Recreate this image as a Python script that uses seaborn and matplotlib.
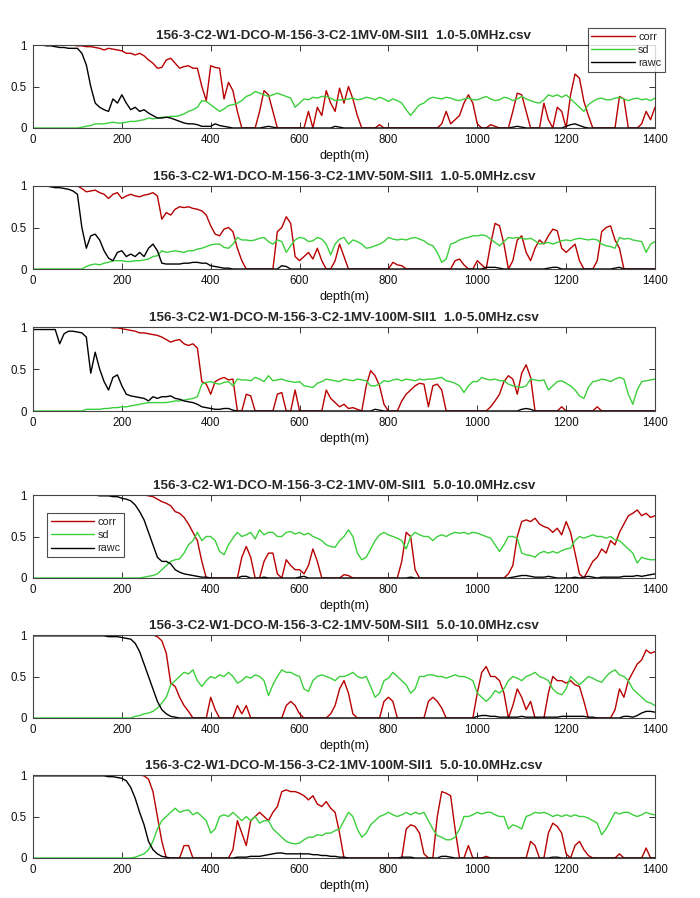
import numpy as np
import pandas as pd
import matplotlib
matplotlib.use("Agg")
import matplotlib.pyplot as plt
import seaborn as sns

# depth grid (m), one sample every 10 m
depth = list(range(0, 1401, 10))

titles = [
    "156-3-C2-W1-DCO-M-156-3-C2-1MV-0M-SII1  1.0-5.0MHz.csv",
    "156-3-C2-W1-DCO-M-156-3-C2-1MV-50M-SII1  1.0-5.0MHz.csv",
    "156-3-C2-W1-DCO-M-156-3-C2-1MV-100M-SII1  1.0-5.0MHz.csv",
    "156-3-C2-W1-DCO-M-156-3-C2-1MV-0M-SII1  5.0-10.0MHz.csv",
    "156-3-C2-W1-DCO-M-156-3-C2-1MV-50M-SII1  5.0-10.0MHz.csv",
    "156-3-C2-W1-DCO-M-156-3-C2-1MV-100M-SII1  5.0-10.0MHz.csv",
]

# ---- 0M 1.0-5.0MHz
p1_corr = [
    1, 1, 1, 1, 1, 1, 1, 1, 1, 1,
    .99, .99, .98, .98, .97, .96, .94, .96, .95, .94,
    .93, .9, .9, .88, .9, .87, .82, .78, .72, .73,
    .82, .84, .78, .72, .74, .75, .72, .72, .5, .33,
    .75, .73, .72, .35, .55, .45, .2, 0, 0, 0,
    0, .2, .45, .4, .2, 0, 0, 0, 0, 0,
    0, 0, .2, 0, .25, .15, .45, .3, .2, .48,
    .3, .5, .35, .15, 0, 0, 0, 0, .04, 0,
    0, 0, 0, 0, 0, 0, 0, 0, 0, 0,
    0, 0, .05, .2, .05, .1, .15, .3, .4, .3,
    .05, 0, 0, .04, .02, 0, 0, 0, .2, .42,
    .4, .2, 0, 0, 0, .3, .1, 0, .25, .2,
    0, .4, .65, .6, .32, .15, 0, 0, 0, 0,
    0, 0, .38, .35, 0, 0, 0, .05, .2, .1,
    .25]
p1_sd = [
    0, 0, 0, 0, 0, 0, 0, 0, 0, 0,
    0, .01, .02, .03, .05, .05, .05, .06, .07, .06,
    .06, .07, .08, .08, .09, .1, .12, .11, .12, .13,
    .13, .14, .14, .15, .17, .2, .22, .25, .33, .32,
    .28, .24, .2, .23, .27, .28, .3, .33, .38, .4,
    .44, .42, .4, .38, .4, .42, .4, .38, .36, .25,
    .3, .35, .34, .37, .36, .38, .38, .36, .33, .34,
    .34, .35, .36, .34, .35, .37, .36, .34, .37, .35,
    .32, .35, .33, .3, .22, .15, .22, .28, .3, .35,
    .37, .36, .35, .37, .36, .34, .33, .35, .36, .34,
    .34, .36, .38, .35, .33, .34, .37, .36, .33, .35,
    .38, .35, .33, .31, .3, .34, .4, .38, .4, .37,
    .4, .35, .3, .25, .2, .28, .32, .35, .36, .34,
    .34, .36, .37, .35, .33, .35, .36, .34, .35, .33,
    .36]
p1_rawc = [
    1, 1, 1, .99, .99, .98, .97, .97, .96, .96,
    .96, .9, .76, .5, .3, .25, .22, .2, .35, .3,
    .4, .3, .22, .25, .2, .22, .18, .15, .12, .12,
    .13, .12, .1, .08, .06, .05, .05, .04, .02, .02,
    .02, .05, .03, .02, .01, 0, 0, 0, 0, 0,
    0, 0, .01, .02, .01, 0, 0, 0, 0, 0,
    0, 0, 0, 0, 0, 0, 0, 0, .02, .01,
    0, 0, 0, 0, 0, 0, 0, 0, 0, 0,
    0, 0, 0, 0, 0, 0, 0, 0, 0, 0,
    0, 0, 0, 0, 0, 0, 0, 0, 0, 0,
    0, 0, 0, 0, 0, 0, 0, 0, .01, .02,
    .01, 0, 0, 0, 0, 0, 0, 0, 0, 0,
    .02, .04, .05, .03, .01, 0, 0, 0, 0, 0,
    0, 0, 0, 0, 0, 0, 0, 0, 0, 0,
    0]

# ---- 50M 1.0-5.0MHz
p2_corr = [
    1, 1, 1, 1, 1, 1, 1, 1, 1, 1,
    1, .97, .93, .94, .95, .92, .9, .85, .9, .92,
    .85, .88, .9, .88, .87, .89, .9, .92, .88, .6,
    .68, .65, .72, .75, .74, .75, .73, .72, .7, .65,
    .52, .42, .4, .48, .5, .45, .25, .1, 0, 0,
    0, 0, 0, 0, 0, .45, .5, .63, .55, .15,
    .1, .15, .2, .12, .25, .1, 0, 0, .1, .3,
    .15, 0, 0, 0, 0, 0, 0, 0, 0, 0,
    0, .08, .05, .04, 0, 0, 0, 0, 0, 0,
    0, 0, 0, 0, 0, .1, .12, .05, 0, 0,
    .1, .05, 0, .3, .55, .52, .3, 0, .1, .35,
    .4, .2, .1, .25, .35, .3, .4, .48, .46, .25,
    .2, .25, .3, .1, 0, 0, 0, .1, .45, .5,
    .52, .35, .25, 0, 0, 0, 0, 0, 0, 0,
    0]
p2_sd = [
    0, 0, 0, 0, 0, 0, 0, 0, 0, 0,
    0, 0, .03, .05, .06, .05, .07, .08, .1, .1,
    .1, .09, .09, .1, .1, .11, .12, .15, .16, .22,
    .2, .21, .22, .21, .2, .22, .22, .24, .25, .27,
    .29, .3, .3, .26, .25, .3, .38, .35, .35, .34,
    .35, .37, .38, .33, .3, .35, .33, .2, .28, .35,
    .38, .37, .33, .34, .38, .36, .3, .17, .3, .36,
    .38, .3, .35, .33, .3, .25, .26, .28, .3, .33,
    .38, .36, .35, .36, .35, .37, .38, .36, .34, .3,
    .28, .2, .08, .12, .3, .32, .35, .37, .38, .4,
    .4, .41, .4, .36, .32, .28, .33, .38, .37, .38,
    .37, .36, .37, .34, .3, .31, .32, .3, .32, .34,
    .35, .34, .36, .37, .36, .35, .36, .35, .3, .28,
    .27, .25, .38, .36, .37, .35, .34, .33, .2, .3,
    .33]
p2_rawc = [
    1, 1, 1, 1, .99, .98, .98, .97, .96, .94,
    .9, .5, .25, .4, .42, .35, .22, .13, .1, .2,
    .22, .15, .18, .15, .2, .15, .25, .3, .22, .07,
    .06, .06, .06, .06, .07, .07, .08, .08, .07, .07,
    .04, .03, .02, .01, .01, 0, 0, 0, 0, 0,
    0, 0, 0, 0, 0, 0, .04, .03, 0, 0,
    0, 0, 0, 0, 0, 0, 0, 0, 0, 0,
    0, 0, 0, 0, 0, 0, 0, 0, 0, 0,
    0, 0, 0, 0, 0, 0, 0, 0, 0, 0,
    0, 0, 0, 0, 0, 0, 0, 0, 0, 0,
    0, 0, .02, .02, .02, .01, 0, 0, 0, 0,
    0, 0, 0, 0, 0, 0, .01, .02, .02, 0,
    0, 0, 0, 0, 0, 0, 0, 0, 0, 0,
    0, .01, .02, 0, 0, 0, 0, 0, 0, 0,
    0]

# ---- 100M 1.0-5.0MHz
p3_corr = [
    1, 1, 1, 1, 1, 1, 1, 1, 1, 1,
    1, 1, 1, 1, 1, 1, 1, 1, .99, .99,
    .98, .97, .96, .95, .93, .93, .92, .91, .9, .88,
    .85, .82, .84, .85, .8, .78, .8, .75, .35, .32,
    .2, .35, .38, .4, .37, .38, 0, 0, .2, .18,
    0, 0, 0, 0, 0, .2, .22, 0, 0, .25,
    0, 0, 0, 0, 0, 0, .25, .15, .1, .05,
    .08, .03, .04, .02, 0, .3, .48, .42, .3, .08,
    0, 0, 0, .12, .2, .25, .3, .33, .32, .05,
    .3, .32, .25, 0, 0, 0, 0, 0, 0, 0,
    0, 0, 0, .05, .12, .2, .35, .42, .38, .2,
    .45, .55, .4, 0, 0, 0, 0, 0, 0, .05,
    0, 0, 0, 0, 0, 0, 0, .05, 0, 0,
    0, 0, 0, 0, 0, 0, 0, 0, 0, 0,
    0]
p3_sd = [
    0, 0, 0, 0, 0, 0, 0, 0, 0, 0,
    0, 0, .02, .02, .02, .02, .03, .03, .04, .04,
    .05, .05, .06, .07, .08, .09, .1, .1, .1, .1,
    .1, .11, .12, .12, .13, .14, .15, .17, .32, .34,
    .35, .33, .32, .34, .35, .3, .38, .37, .37, .36,
    .4, .38, .35, .42, .36, .37, .38, .36, .35, .34,
    .35, .3, .29, .28, .33, .35, .38, .37, .36, .35,
    .38, .37, .36, .38, .37, .36, .3, .3, .32, .36,
    .35, .37, .38, .36, .38, .37, .36, .38, .37, .38,
    .38, .39, .4, .36, .35, .33, .3, .22, .3, .35,
    .35, .4, .38, .37, .38, .36, .36, .32, .3, .29,
    .28, .3, .38, .37, .36, .37, .25, .3, .35, .36,
    .33, .3, .25, .18, .15, .28, .35, .36, .38, .37,
    .35, .38, .4, .38, .2, .08, .25, .35, .36, .37,
    .38]
p3_rawc = [
    .97, .97, .97, .97, .97, .97, .8, .92, .95, .95,
    .94, .93, .88, .45, .7, .5, .35, .25, .4, .43,
    .3, .2, .18, .17, .16, .15, .12, .17, .15, .17,
    .17, .18, .15, .14, .12, .11, .1, .08, .05, .04,
    .03, .02, .02, .03, .03, .01, 0, 0, 0, 0,
    0, 0, 0, 0, 0, 0, 0, 0, 0, 0,
    0, 0, 0, 0, 0, 0, 0, 0, 0, 0,
    0, 0, 0, 0, 0, 0, 0, .02, .01, 0,
    0, 0, 0, 0, 0, 0, 0, 0, 0, 0,
    0, 0, 0, 0, 0, 0, 0, 0, 0, 0,
    0, 0, 0, 0, 0, 0, 0, 0, 0, 0,
    .02, .03, .02, 0, 0, 0, 0, 0, 0, 0,
    0, 0, 0, 0, 0, 0, 0, 0, 0, 0,
    0, 0, 0, 0, 0, 0, 0, 0, 0, 0,
    0]

# ---- 0M 5.0-10.0MHz
p4_corr = [
    1, 1, 1, 1, 1, 1, 1, 1, 1, 1,
    1, 1, 1, 1, 1, 1, 1, 1, 1, 1,
    1, 1, 1, 1, 1, 1, .99, .98, .95, .92,
    .9, .87, .8, .78, .73, .65, .55, .45, .2, 0,
    0, 0, 0, 0, 0, 0, 0, .25, .38, .25,
    0, 0, .2, .3, .3, .05, 0, .22, .15, .1,
    .1, .05, .15, .35, .2, 0, 0, 0, 0, 0,
    .04, .03, 0, 0, 0, 0, 0, 0, 0, 0,
    0, 0, 0, .2, .55, .5, .1, 0, 0, 0,
    0, 0, 0, 0, 0, 0, 0, 0, 0, 0,
    0, 0, 0, 0, 0, 0, 0, .05, .15, .5,
    .68, .7, .68, .72, .65, .62, .6, .55, .6, .52,
    .68, .55, .3, .05, 0, .1, .2, .25, .35, .3,
    .45, .4, .55, .65, .75, .78, .82, .75, .78, .73,
    .75]
p4_sd = [
    0, 0, 0, 0, 0, 0, 0, 0, 0, 0,
    0, 0, 0, 0, 0, 0, 0, 0, 0, 0,
    0, 0, 0, 0, 0, .01, .02, .03, .05, .1,
    .15, .2, .22, .23, .3, .4, .45, .55, .45, .5,
    .5, .45, .32, .28, .4, .48, .55, .5, .52, .55,
    .47, .58, .52, .55, .55, .5, .5, .55, .56, .53,
    .55, .52, .54, .5, .48, .45, .4, .38, .37, .45,
    .5, .58, .5, .3, .22, .25, .35, .45, .52, .55,
    .52, .5, .48, .45, .35, .5, .55, .52, .5, .5,
    .45, .5, .52, .5, .53, .55, .54, .55, .53, .55,
    .54, .52, .5, .48, .4, .32, .4, .5, .5, .48,
    .3, .28, .27, .25, .3, .32, .3, .32, .3, .33,
    .35, .36, .45, .5, .48, .5, .52, .5, .5, .48,
    .5, .46, .45, .4, .35, .3, .18, .25, .23, .22,
    .22]
p4_rawc = [
    1, 1, 1, 1, 1, 1, 1, 1, 1, 1,
    1, 1, 1, 1, 1, .99, .99, .99, .98, .98,
    .96, .95, .93, .88, .8, .7, .55, .4, .25, .2,
    .2, .17, .1, .07, .05, .04, .03, .02, .01, .01,
    0, 0, 0, 0, 0, 0, 0, .02, .02, 0,
    0, 0, .01, 0, 0, 0, 0, 0, 0, 0,
    .01, .02, 0, 0, 0, 0, 0, 0, 0, 0,
    0, 0, 0, 0, 0, 0, 0, 0, 0, 0,
    0, 0, 0, 0, 0, .01, 0, 0, 0, 0,
    0, 0, 0, 0, 0, 0, 0, 0, 0, 0,
    0, 0, 0, 0, 0, 0, 0, 0, .01, .02,
    .03, .03, .02, .01, .01, .01, .02, .01, 0, 0,
    0, 0, .01, 0, .01, .02, .01, 0, .01, .01,
    .01, .01, .01, .02, .02, .02, .03, .02, .03, .04,
    .05]

# ---- 50M 5.0-10.0MHz
p5_corr = [
    1, 1, 1, 1, 1, 1, 1, 1, 1, 1,
    1, 1, 1, 1, 1, 1, 1, 1, 1, 1,
    1, 1, 1, 1, 1, 1, 1, 1, .98, .93,
    .78, .42, .38, .25, .15, .08, 0, 0, 0, 0,
    .25, .1, 0, 0, 0, 0, .15, .05, .15, 0,
    0, 0, 0, 0, 0, 0, 0, .15, .2, .15,
    .05, 0, 0, 0, 0, 0, 0, .05, .15, .35,
    .45, .3, .05, 0, 0, 0, 0, 0, 0, .2,
    .25, .2, 0, 0, 0, 0, 0, 0, 0, .2,
    .25, .2, .12, 0, 0, 0, 0, 0, 0, 0,
    .3, .55, .62, .5, .5, .45, .3, 0, .15, .35,
    .25, .1, .2, 0, 0, 0, .3, .5, .45, .45,
    .42, .45, .4, .38, .2, 0, 0, 0, 0, 0,
    0, .1, .35, .25, .45, .55, .65, .7, .82, .78,
    .8]
p5_sd = [
    0, 0, 0, 0, 0, 0, 0, 0, 0, 0,
    0, 0, 0, 0, 0, 0, 0, 0, 0, 0,
    0, 0, 0, .02, .03, .05, .06, .08, .12, .18,
    .25, .4, .45, .5, .55, .53, .58, .45, .38, .45,
    .5, .48, .52, .5, .55, .5, .42, .45, .5, .48,
    .52, .5, .45, .27, .4, .5, .58, .55, .55, .52,
    .5, .35, .32, .45, .5, .52, .5, .48, .45, .5,
    .5, .52, .55, .5, .48, .5, .38, .25, .3, .45,
    .48, .55, .5, .45, .4, .3, .35, .5, .5, .52,
    .52, .5, .5, .48, .5, .52, .5, .5, .48, .45,
    .3, .25, .2, .25, .33, .3, .35, .45, .5, .48,
    .45, .5, .52, .55, .5, .48, .45, .35, .3, .28,
    .35, .5, .45, .4, .45, .5, .48, .45, .43, .5,
    .55, .58, .52, .5, .45, .35, .3, .25, .2, .18,
    .15]
p5_rawc = [
    .99, .99, .99, .99, .99, .99, .99, .99, .99, .99,
    .99, .99, .99, .99, .99, .99, .99, .98, .98, .98,
    .97, .96, .95, .9, .8, .65, .5, .35, .2, .1,
    .05, .02, .01, 0, 0, 0, 0, 0, 0, 0,
    0, 0, 0, 0, 0, 0, 0, 0, 0, 0,
    0, 0, 0, 0, 0, 0, 0, 0, 0, 0,
    0, 0, 0, 0, 0, 0, 0, 0, 0, 0,
    0, 0, 0, 0, 0, 0, 0, 0, 0, 0,
    0, 0, 0, 0, 0, 0, 0, 0, 0, 0,
    0, 0, 0, 0, 0, 0, 0, 0, 0, 0,
    .02, .03, .03, .02, .02, .01, .01, .01, .01, .01,
    .02, .01, .01, .01, .01, .01, .01, .01, .01, .02,
    .02, .02, .02, .02, .02, .01, .01, 0, 0, 0,
    0, 0, 0, .02, .02, .01, .03, .06, .08, .08,
    .07]

# ---- 100M 5.0-10.0MHz
p6_corr = [
    1, 1, 1, 1, 1, 1, 1, 1, 1, 1,
    1, 1, 1, 1, 1, 1, 1, 1, 1, 1,
    1, 1, 1, 1, 1, .99, .95, .8, .5, .2,
    0, 0, 0, 0, .15, .15, 0, 0, 0, 0,
    0, 0, 0, 0, 0, .1, .45, .3, .15, .45,
    .5, .55, .5, .45, .55, .62, .8, .82, .8, .8,
    .78, .75, .7, .75, .65, .62, .68, .6, .55, .3,
    0, 0, 0, 0, 0, 0, 0, 0, 0, 0,
    0, 0, 0, 0, .35, .4, .38, .3, .05, 0,
    0, .5, .8, .78, .75, .35, 0, 0, .15, 0,
    0, 0, .02, 0, 0, 0, 0, 0, 0, 0,
    0, 0, .2, .15, 0, 0, .3, .42, .38, .3,
    .05, 0, .15, .2, .1, .03, 0, 0, 0, 0,
    0, 0, .05, 0, 0, 0, 0, 0, .12, 0,
    0]
p6_sd = [
    0, 0, 0, 0, 0, 0, 0, 0, 0, 0,
    0, 0, 0, 0, 0, 0, 0, 0, 0, 0,
    0, 0, 0, .01, .03, .05, .1, .2, .35, .45,
    .5, .55, .6, .55, .57, .58, .52, .55, .5, .45,
    .3, .35, .5, .52, .5, .55, .5, .45, .5, .45,
    .5, .42, .45, .45, .35, .3, .25, .2, .18, .17,
    .18, .22, .25, .25, .28, .27, .3, .3, .33, .35,
    .45, .55, .5, .35, .25, .3, .4, .45, .5, .52,
    .55, .52, .5, .52, .55, .52, .55, .53, .55, .45,
    .35, .27, .25, .22, .22, .25, .35, .5, .5, .52,
    .55, .53, .55, .55, .52, .5, .5, .35, .4, .38,
    .35, .5, .52, .55, .54, .55, .53, .5, .52, .5,
    .52, .5, .52, .5, .5, .48, .45, .42, .28, .35,
    .45, .55, .53, .55, .55, .52, .5, .52, .55, .53,
    .52]
p6_rawc = [
    .99, .99, .99, .99, .99, .99, .99, .99, .99, .99,
    .99, .99, .99, .99, .99, .99, .99, .98, .98, .97,
    .96, .93, .85, .72, .55, .4, .2, .1, .05, .02,
    .01, 0, 0, 0, 0, 0, 0, 0, 0, 0,
    0, 0, 0, 0, 0, 0, .01, .01, .01, .02,
    .02, .02, .03, .04, .05, .06, .06, .05, .05, .05,
    .05, .05, .05, .04, .04, .03, .03, .02, .02, .01,
    .01, 0, 0, 0, 0, 0, 0, 0, 0, 0,
    0, 0, 0, .01, .01, .01, 0, 0, 0, 0,
    0, 0, .02, .02, .01, 0, 0, 0, 0, 0,
    0, 0, 0, 0, 0, 0, 0, 0, 0, 0,
    0, 0, 0, 0, 0, 0, 0, .01, .01, 0,
    0, 0, 0, 0, 0, 0, 0, 0, 0, 0,
    0, 0, 0, 0, 0, 0, 0, 0, 0, 0,
    0]

panels = [
    (titles[0], p1_corr, p1_sd, p1_rawc),
    (titles[1], p2_corr, p2_sd, p2_rawc),
    (titles[2], p3_corr, p3_sd, p3_rawc),
    (titles[3], p4_corr, p4_sd, p4_rawc),
    (titles[4], p5_corr, p5_sd, p5_rawc),
    (titles[5], p6_corr, p6_sd, p6_rawc),
]

sns.set_theme(style="white")
plt.rcParams['font.family'] = ['Liberation Sans', 'DejaVu Sans']

colors = {'corr': '#b80000', 'sd': '#3ccf3c', 'rawc': '#000000'}
W, H = 700, 898
tops = [45, 186, 327, 495, 635, 775]
bots = [128, 269, 411, 578, 718, 858]

fig = plt.figure(figsize=(W / 100, H / 100), dpi=100)
fig.patch.set_facecolor('white')

for i, (title, c, s, r) in enumerate(panels):
    ax = fig.add_axes([33 / W, 1 - bots[i] / H, 622 / W, (bots[i] - tops[i]) / H])
    df = pd.DataFrame({'depth': depth, 'corr': c, 'sd': s, 'rawc': r})
    df = df.melt('depth', var_name='series', value_name='value')
    sns.lineplot(data=df, x='depth', y='value', hue='series', palette=colors,
                 linewidth=1.0, ax=ax, legend=(i in (0, 3)))
    ax.set_xlim(0, 1400)
    ax.set_ylim(0, 1)
    ax.set_xticks(range(0, 1401, 200))
    ax.set_yticks([0, 0.5, 1])
    ax.set_yticklabels(['0', '0.5', '1'])
    ax.tick_params(which='both', direction='in', top=True, right=True, bottom=True, left=True,
                   labeltop=False, labelright=False, length=4, width=0.7,
                   color='#333333', labelsize=8.3, labelcolor='#111111', pad=4.5)
    for sp in ax.spines.values():
        sp.set_color('#444444')
        sp.set_linewidth(0.8)
    ax.set_xlabel('depth(m)', fontsize=9, labelpad=3, color='#111111')
    ax.set_ylabel('')
    ax.set_title(title, fontsize=9.6, fontweight='bold', pad=4)

    if i in (0, 3):
        handles, labels = ax.get_legend_handles_labels()
        if i == 0:
            kw = dict(loc='upper right', bbox_to_anchor=(1.016, 1.205))
        else:
            kw = dict(loc='upper left', bbox_to_anchor=(0.0225, 0.783))
        leg = ax.legend(handles, labels, frameon=True, fancybox=False, fontsize=7.8,
                        handlelength=4.0, handletextpad=0.3, borderpad=0.35,
                        labelspacing=0.3, borderaxespad=0, **kw)
        leg.get_frame().set_edgecolor('#222222')
        leg.get_frame().set_linewidth(0.8)
        leg.set_zorder(10)

fig.savefig('out.png', dpi=100, facecolor='white')
